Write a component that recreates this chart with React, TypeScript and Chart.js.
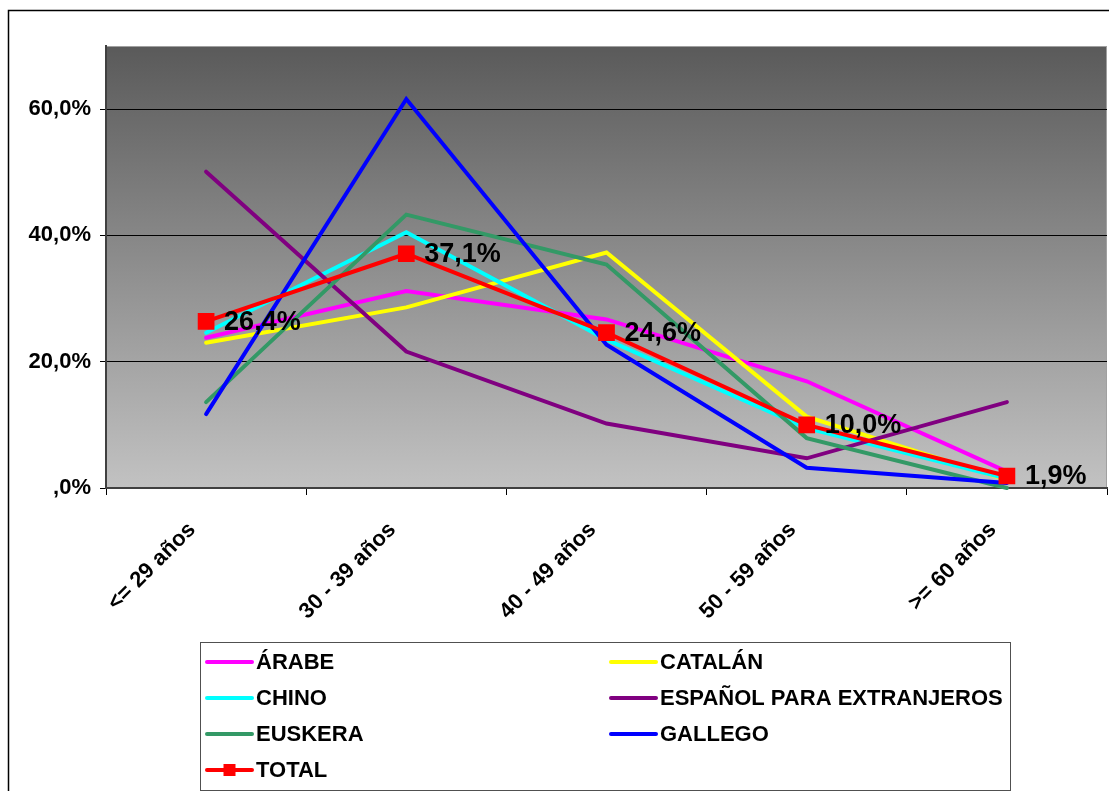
import React, { useEffect, useRef } from "react";
import { Chart, registerables } from "chart.js";

Chart.register(...registerables);

const categories = ["<= 29 años", "30 - 39 años", "40 - 49 años", "50 - 59 años", ">= 60 años"];

const seriesNames = ["ÁRABE", "CATALÁN", "CHINO", "ESPAÑOL PARA EXTRANJEROS", "EUSKERA", "GALLEGO", "TOTAL"];
const seriesColors = ["#ff00ff", "#ffff00", "#00ffff", "#800080", "#339966", "#0000ff", "#ff0000"];

const arabe = [23.8, 31.2, 26.7, 16.9, 2.6];
const catalan = [23.0, 28.6, 37.3, 11.3, 1.3];
const chino = [24.6, 40.5, 23.5, 9.5, 1.5];
const espanol = [50.1, 21.6, 10.2, 4.7, 13.6];
const euskera = [13.6, 43.3, 35.4, 7.9, 0.0];
const gallego = [11.7, 61.6, 22.7, 3.2, 0.8];
const total = [26.4, 37.1, 24.6, 10.0, 1.9];

const seriesValues = [arabe, catalan, chino, espanol, euskera, gallego, total];

const yTicks = [0, 20, 40, 60];

const FONT = "'Liberation Sans', Arial, sans-serif";

const fmtPct = (v: number) => (v === 0 ? ",0%" : v.toFixed(1).replace(".", ",") + "%");

const decorPlugin = {
  id: "decor",
  beforeDraw(chart: any) {
    const { ctx, chartArea } = chart;
    ctx.save();
    ctx.strokeStyle = "#000";
    ctx.lineWidth = 1.5;
    ctx.strokeRect(8.5, 10.5, 1300, 900);
    const g = ctx.createLinearGradient(0, chartArea.top, 0, chartArea.bottom);
    g.addColorStop(0, "#5a5a5a");
    g.addColorStop(1, "#c2c2c2");
    ctx.fillStyle = g;
    ctx.fillRect(chartArea.left, chartArea.top, chartArea.right - chartArea.left, chartArea.bottom - chartArea.top);
    ctx.strokeStyle = "#a0a0a0";
    ctx.lineWidth = 1;
    ctx.strokeRect(chartArea.left + 0.5, chartArea.top + 0.5, chartArea.right - chartArea.left - 1, chartArea.bottom - chartArea.top);
    ctx.restore();
  },
};

const labelPlugin = {
  id: "totalLabels",
  afterDatasetsDraw(chart: any) {
    const { ctx } = chart;
    const idx = chart.data.datasets.length - 1;
    const meta = chart.getDatasetMeta(idx);
    const data = chart.data.datasets[idx].data as number[];
    ctx.save();
    ctx.font = `bold 27px ${FONT}`;
    ctx.fillStyle = "#000";
    ctx.textAlign = "left";
    ctx.textBaseline = "middle";
    meta.data.forEach((pt: any, i: number) => {
      ctx.fillText(fmtPct(data[i]), pt.x + 18, pt.y + 1);
    });
    ctx.restore();
  },
};

const legendPlugin = {
  id: "boxLegend",
  afterDraw(chart: any) {
    const { ctx } = chart;
    ctx.save();
    ctx.strokeStyle = "#505050";
    ctx.lineWidth = 1;
    ctx.strokeRect(200.5, 642.5, 810, 148);
    ctx.font = `bold 22px ${FONT}`;
    ctx.textBaseline = "middle";
    ctx.textAlign = "left";
    chart.data.datasets.forEach((ds: any, i: number) => {
      const col = i % 2;
      const row = Math.floor(i / 2);
      const lx = col === 0 ? 207 : 611;
      const tx = col === 0 ? 256 : 660;
      const y = 662 + row * 36;
      ctx.strokeStyle = ds.borderColor;
      ctx.lineWidth = 4;
      ctx.lineCap = "round";
      ctx.beginPath();
      ctx.moveTo(lx, y);
      ctx.lineTo(lx + 45, y);
      ctx.stroke();
      if (ds.pointRadius > 0) {
        ctx.fillStyle = ds.pointBackgroundColor;
        ctx.fillRect(lx + 22.5 - 6, y - 6, 12, 12);
      }
      ctx.fillStyle = "#000";
      ctx.fillText(ds.label, tx, y + 1);
    });
    ctx.restore();
  },
};

export default function App() {
  const ref = useRef<HTMLCanvasElement | null>(null);

  useEffect(() => {
    if (!ref.current) return;
    const datasets = seriesNames.map((name, i) => {
      const isTotal = name === "TOTAL";
      return {
        label: name,
        data: seriesValues[i],
        borderColor: seriesColors[i],
        backgroundColor: seriesColors[i],
        pointBackgroundColor: seriesColors[i],
        pointBorderColor: seriesColors[i],
        borderWidth: 4,
        tension: 0,
        borderCapStyle: "round" as const,
        borderJoinStyle: "miter" as const,
        pointRadius: isTotal ? 9 : 0,
        pointHoverRadius: isTotal ? 9 : 0,
        pointStyle: "rect" as const,
        fill: false,
        clip: false as const,
        order: seriesNames.length - 1 - i,
      };
    });

    const chart = new Chart(ref.current, {
      type: "line",
      data: { labels: categories, datasets },
      options: {
        animation: false,
        responsive: false,
        maintainAspectRatio: false,
        events: [],
        layout: { autoPadding: false, padding: { left: 0, top: 46, right: 2, bottom: 153 } },
        plugins: {
          legend: { display: false },
          tooltip: { enabled: false },
          title: { display: false },
        },
        scales: {
          x: {
            type: "category",
            offset: true,
            afterFit: (s: any) => {
              s.height = 150;
              s.paddingLeft = 0;
              s.paddingRight = 0;
            },
            grid: {
              offset: true,
              drawOnChartArea: false,
              drawTicks: true,
              tickLength: 7,
              tickColor: "#000",
            },
            border: { display: true, color: "#404040", width: 2 },
            ticks: {
              minRotation: 45,
              maxRotation: 45,
              autoSkip: false,
              padding: 22,
              labelOffset: -14,
              color: "#000",
              font: { family: FONT, size: 22, weight: "bold" },
            },
          },
          y: {
            min: 0,
            max: 70,
            afterFit: (s: any) => {
              s.width = 106;
            },
            afterBuildTicks: (s: any) => {
              s.ticks = yTicks.map((v) => ({ value: v }));
            },
            grid: {
              color: (c: any) => (c.tick && c.tick.value === 0 ? "rgba(0,0,0,0)" : "#000"),
              tickColor: "#000",
              tickLength: 6,
              lineWidth: 1,
            },
            border: { display: true, color: "#404040", width: 2 },
            ticks: {
              padding: 9,
              color: "#000",
              font: { family: FONT, size: 22, weight: "bold" },
              callback: (v: any) => fmtPct(Number(v)),
            },
          },
        },
      },
      plugins: [decorPlugin, labelPlugin, legendPlugin],
    });
    return () => chart.destroy();
  }, []);

  return (
    <div style={{ position: "absolute", left: 0, top: 0, width: 1109, height: 791, background: "#fff" }}>
      <canvas ref={ref} width={1109} height={791} style={{ display: "block", width: 1109, height: 791 }} />
    </div>
  );
}
